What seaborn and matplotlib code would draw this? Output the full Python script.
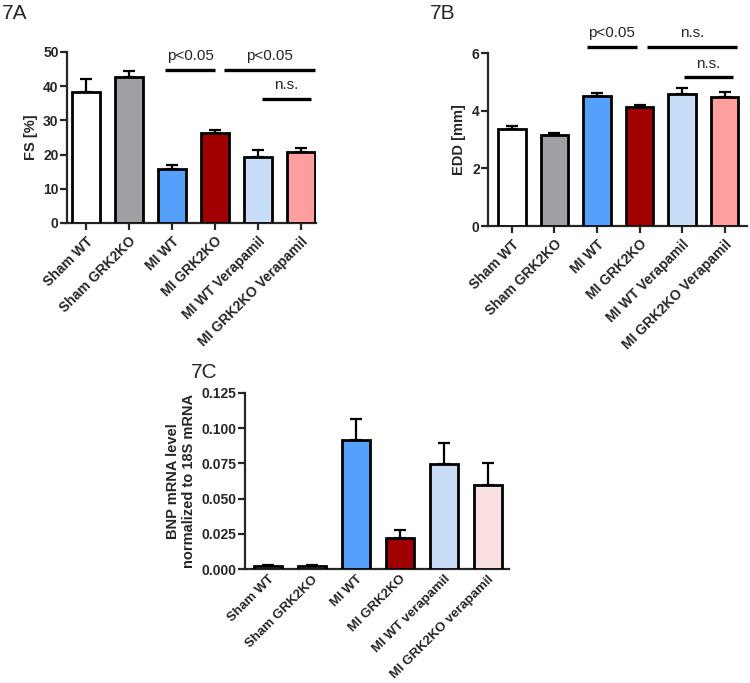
import numpy as np
import pandas as pd
import matplotlib
matplotlib.use('Agg')
import matplotlib.pyplot as plt
import seaborn as sns

sns.set_style('ticks')
plt.rcParams['font.family'] = ['Liberation Sans', 'DejaVu Sans']

# data
groups_ab = ['Sham WT', 'Sham GRK2KO', 'MI WT', 'MI GRK2KO',
             'MI WT Verapamil', 'MI GRK2KO Verapamil']
groups_c = ['Sham WT', 'Sham GRK2KO', 'MI WT', 'MI GRK2KO',
            'MI WT verapamil', 'MI GRK2KO verapamil']

fs_mean = [38.3, 42.6, 15.8, 26.2, 19.4, 20.8]
fs_err = [3.8, 1.9, 1.2, 1.0, 1.9, 1.2]

edd_mean = [3.37, 3.15, 4.53, 4.13, 4.57, 4.48]
edd_err = [0.10, 0.09, 0.08, 0.07, 0.22, 0.16]

bnp_mean = [0.0020, 0.0020, 0.0916, 0.0222, 0.0744, 0.0597]
bnp_err = [0.0006, 0.0006, 0.0147, 0.0055, 0.0153, 0.0158]

colors_ab = ['#ffffff', '#a0a0a4', '#55a0fb', '#a00000', '#c8ddf7', '#ff9e9e']
colors_c = ['#ffffff', '#ffffff', '#55a0fb', '#a00000', '#c8ddf7', '#f9e1e1']

fig = plt.figure(figsize=(7.5, 6.83), dpi=100)
ax_a = fig.add_axes([0.0893, 0.6735, 0.332, 0.2505])
ax_b = fig.add_axes([0.6507, 0.669, 0.345, 0.253])
ax_c = fig.add_axes([0.3267, 0.1669, 0.352, 0.2577])


def bar_panel(ax, cats, means, errs, colors, ylabel, ylim, yticks, xlim,
              ytickfmt=None, xticks=True, xfont=10):
    df = pd.DataFrame({'group': cats, 'value': means})
    sns.barplot(data=df, x='group', y='value', hue='group', palette=colors,
                saturation=1, legend=False, errorbar=None, width=0.65,
                edgecolor='black', linewidth=2.0, ax=ax, zorder=3)
    ax.errorbar(np.arange(len(cats)), means, yerr=[np.zeros(len(cats)), errs],
                fmt='none', ecolor='black', elinewidth=1.6, capsize=4.5,
                capthick=1.6, zorder=2)
    ax.set_xlim(*xlim)
    ax.set_ylim(*ylim)
    ax.set_yticks(yticks)
    if ytickfmt:
        ax.set_yticklabels([ytickfmt.format(t) for t in yticks])
    ax.set_xlabel('')
    ax.set_ylabel(ylabel, fontsize=10.5, fontweight='bold')
    ax.set_xticks(range(len(cats)))
    ax.set_xticklabels(cats, rotation=45, ha='right', rotation_mode='anchor',
                       fontsize=xfont, fontweight='bold')
    for lab in ax.get_yticklabels():
        lab.set_fontweight('bold')
        lab.set_fontsize(10)
    sns.despine(ax=ax)
    for s in ['left', 'bottom']:
        ax.spines[s].set_linewidth(1.6)
    ax.tick_params(axis='y', width=1.6, length=5, pad=1)
    if xticks:
        ax.tick_params(axis='x', width=1.6, length=5, pad=3)
    else:
        ax.tick_params(axis='x', length=0, pad=3)


def sig(ax, x0, x1, y, text, ty):
    ax.plot([x0, x1], [y, y], color='black', lw=2.4, clip_on=False, solid_capstyle='butt')
    ax.text((x0 + x1) / 2, ty, text, ha='center', va='bottom', fontsize=11)


bar_panel(ax_a, groups_ab, fs_mean, fs_err, colors_ab, 'FS [%]',
          (0, 50), [0, 10, 20, 30, 40, 50], (-0.44, 5.35))
sig(ax_a, 1.85, 3.0, 44.7, 'p<0.05', 46.8)
sig(ax_a, 3.22, 5.33, 44.7, 'p<0.05', 46.8)
sig(ax_a, 4.1, 5.23, 36.3, 'n.s.', 38.3)

bar_panel(ax_b, groups_ab, edd_mean, edd_err, colors_ab, 'EDD [mm]',
          (0, 6), [0, 2, 4, 6], (-0.56, 5.52))
sig(ax_b, 1.76, 2.93, 6.23, 'p<0.05', 6.45)
sig(ax_b, 3.17, 5.29, 6.23, 'n.s.', 6.45)
sig(ax_b, 4.04, 5.19, 5.18, 'n.s.', 5.4)

bar_panel(ax_c, groups_c, bnp_mean, bnp_err, colors_c,
          'BNP mRNA level\nnormalized to 18S mRNA',
          (0, 0.125), [0, 0.025, 0.05, 0.075, 0.1, 0.125], (-0.52, 5.48),
          ytickfmt='{:.3f}', xticks=False, xfont=9.5)

fig.text(0.003, 0.972, '7A', fontsize=15)
fig.text(0.573, 0.972, '7B', fontsize=15)
fig.text(0.255, 0.447, '7C', fontsize=15)

plt.savefig('out.png', dpi=100)
